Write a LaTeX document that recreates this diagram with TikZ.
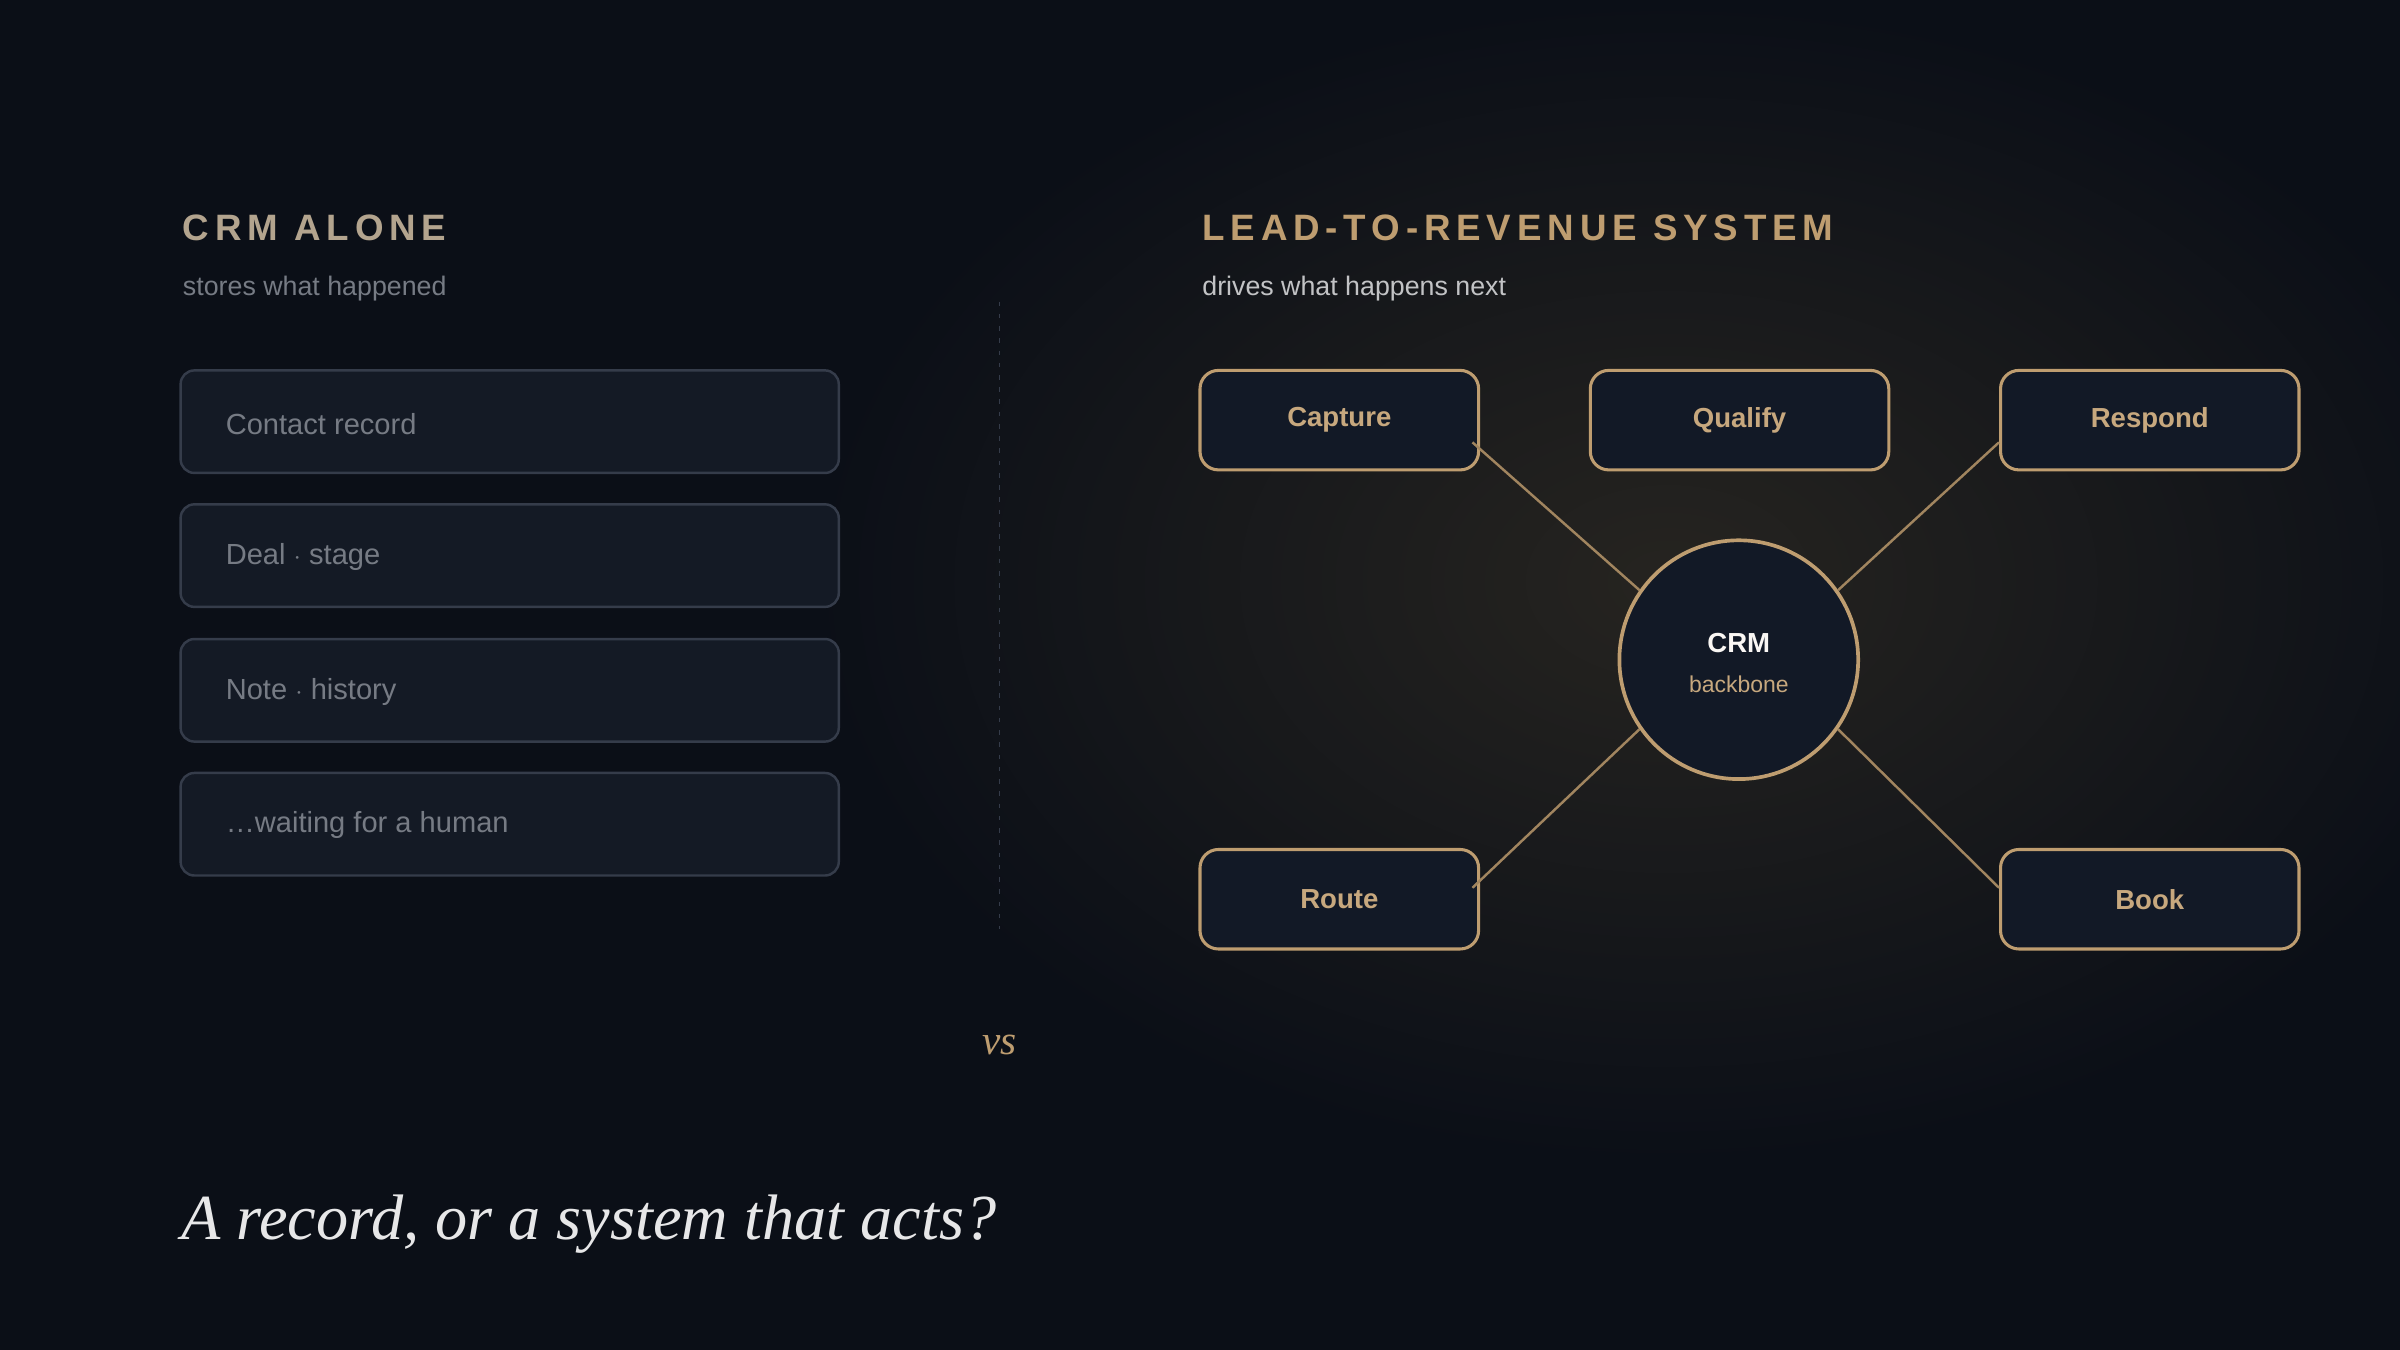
\documentclass[tikz,border=0pt]{standalone}
\usepackage{fontspec}
\setmainfont{Liberation Sans}
\newfontfamily\serifit{Liberation Serif}
\usetikzlibrary{calc}
\definecolor{bg}{HTML}{0B0F17}
\definecolor{glow}{HTML}{262420}
\definecolor{boxfill}{HTML}{141A25}
\definecolor{boxline}{HTML}{353C4A}
\definecolor{greytext}{HTML}{767B84}
\definecolor{gold}{HTML}{BE9D70}
\definecolor{goldtext}{HTML}{C7A87E}
\definecolor{lefthead}{HTML}{B3A48E}
\definecolor{nodefill}{HTML}{121926}
\begin{document}
\begin{tikzpicture}[x=1pt,y=-1pt,
  lbox/.style={draw=boxline,line width=1.6pt,fill=boxfill,rounded corners=9pt,minimum width=430pt,minimum height=67pt,inner sep=0pt},
  ltext/.style={text=greytext,font=\fontsize{19}{22}\selectfont,anchor=west},
  rnode/.style={draw=gold,line width=2pt,fill=nodefill,rounded corners=12pt,minimum height=65pt,inner sep=0pt,text=goldtext,font=\bfseries\fontsize{18}{21}\selectfont},
  link/.style={draw=gold!85!black,line width=1.6pt}]
\useasboundingbox (0,0) rectangle (1568,882);
\fill[bg] (0,0) rectangle (1568,882);
\begin{scope}
\clip (0,0) rectangle (1568,882);
\shade[inner color=glow,outer color=bg] (1090,380) ellipse [x radius=560pt,y radius=380pt];
\end{scope}
% left
\node[anchor=base west,text=lefthead,font=\bfseries\fontsize{24}{28}\selectfont\addfontfeature{LetterSpace=16}] (lh) at (116,157) {CRM ALONE};
\node[anchor=base west,text=greytext,font=\fontsize{17.5}{20}\selectfont] (ls) at (116,193) {stores what happened};
\node[lbox] (b1) at (333,275.5) {};
\node[lbox] (b2) at (333,363) {};
\node[lbox] (b3) at (333,451) {};
\node[lbox] (b4) at (333,538.5) {};
\node[ltext] (t1) at (144,277) {Contact record};
\node[ltext] (t2) at (144,364) {Deal $\cdot$ stage};
\node[ltext] (t3) at (144,452) {Note $\cdot$ history};
\node[ltext] (t4) at (144,539) {\dots waiting for a human};
% divider
\coordinate (d1) at (653,197); \coordinate (d2) at (653,607);
\draw[boxline,line width=1.2pt,dash pattern=on 3pt off 5pt] (d1) -- (d2);
\node[text=gold,font=\serifit\itshape\fontsize{27}{28}\selectfont] (vs) at (653,683) {vs};
% right
\node[anchor=base west,text=gold,font=\bfseries\fontsize{24}{28}\selectfont\addfontfeature{LetterSpace=16}] (rh) at (782,157) {LEAD-TO-REVENUE SYSTEM};
\node[anchor=base west,text=white!75!bg,font=\fontsize{17.5}{20}\selectfont] (rs) at (782,193) {drives what happens next};
\node[rnode,minimum width=182pt] (cap) at (875,274.5) {Capture};
\node[rnode,minimum width=195pt] (qua) at (1136.5,274.5) {Qualify};
\node[rnode,minimum width=195pt] (res) at (1404.5,274.5) {Respond};
\node[rnode,minimum width=182pt] (rou) at (875,587.5) {Route};
\node[rnode,minimum width=195pt] (boo) at (1404.5,587.5) {Book};
\node[circle,draw=gold,line width=2.4pt,fill=nodefill,minimum size=156pt,inner sep=0pt] (crm) at (1136,431) {};
\node[text=white!92!gold,font=\bfseries\fontsize{18}{20}\selectfont] (crmt) at (1136,420) {CRM};
\node[text=goldtext,font=\fontsize{15}{18}\selectfont] (crmb) at (1136,447) {backbone};
\coordinate (c1) at (962,289); \coordinate (c2) at (1306,289);
\coordinate (c3) at (962,580); \coordinate (c4) at (1306,580);
\draw[link] (c1) -- (crm.145);
\draw[link] (c2) -- (crm.35);
\draw[link] (c3) -- (crm.-145);
\draw[link] (c4) -- (crm.-35);
% bottom
\node[anchor=base west,text=white!90!bg,font=\serifit\itshape\fontsize{42}{46}\selectfont] (q) at (115,810) {A record, or a system that acts?};
\end{tikzpicture}
\end{document}
